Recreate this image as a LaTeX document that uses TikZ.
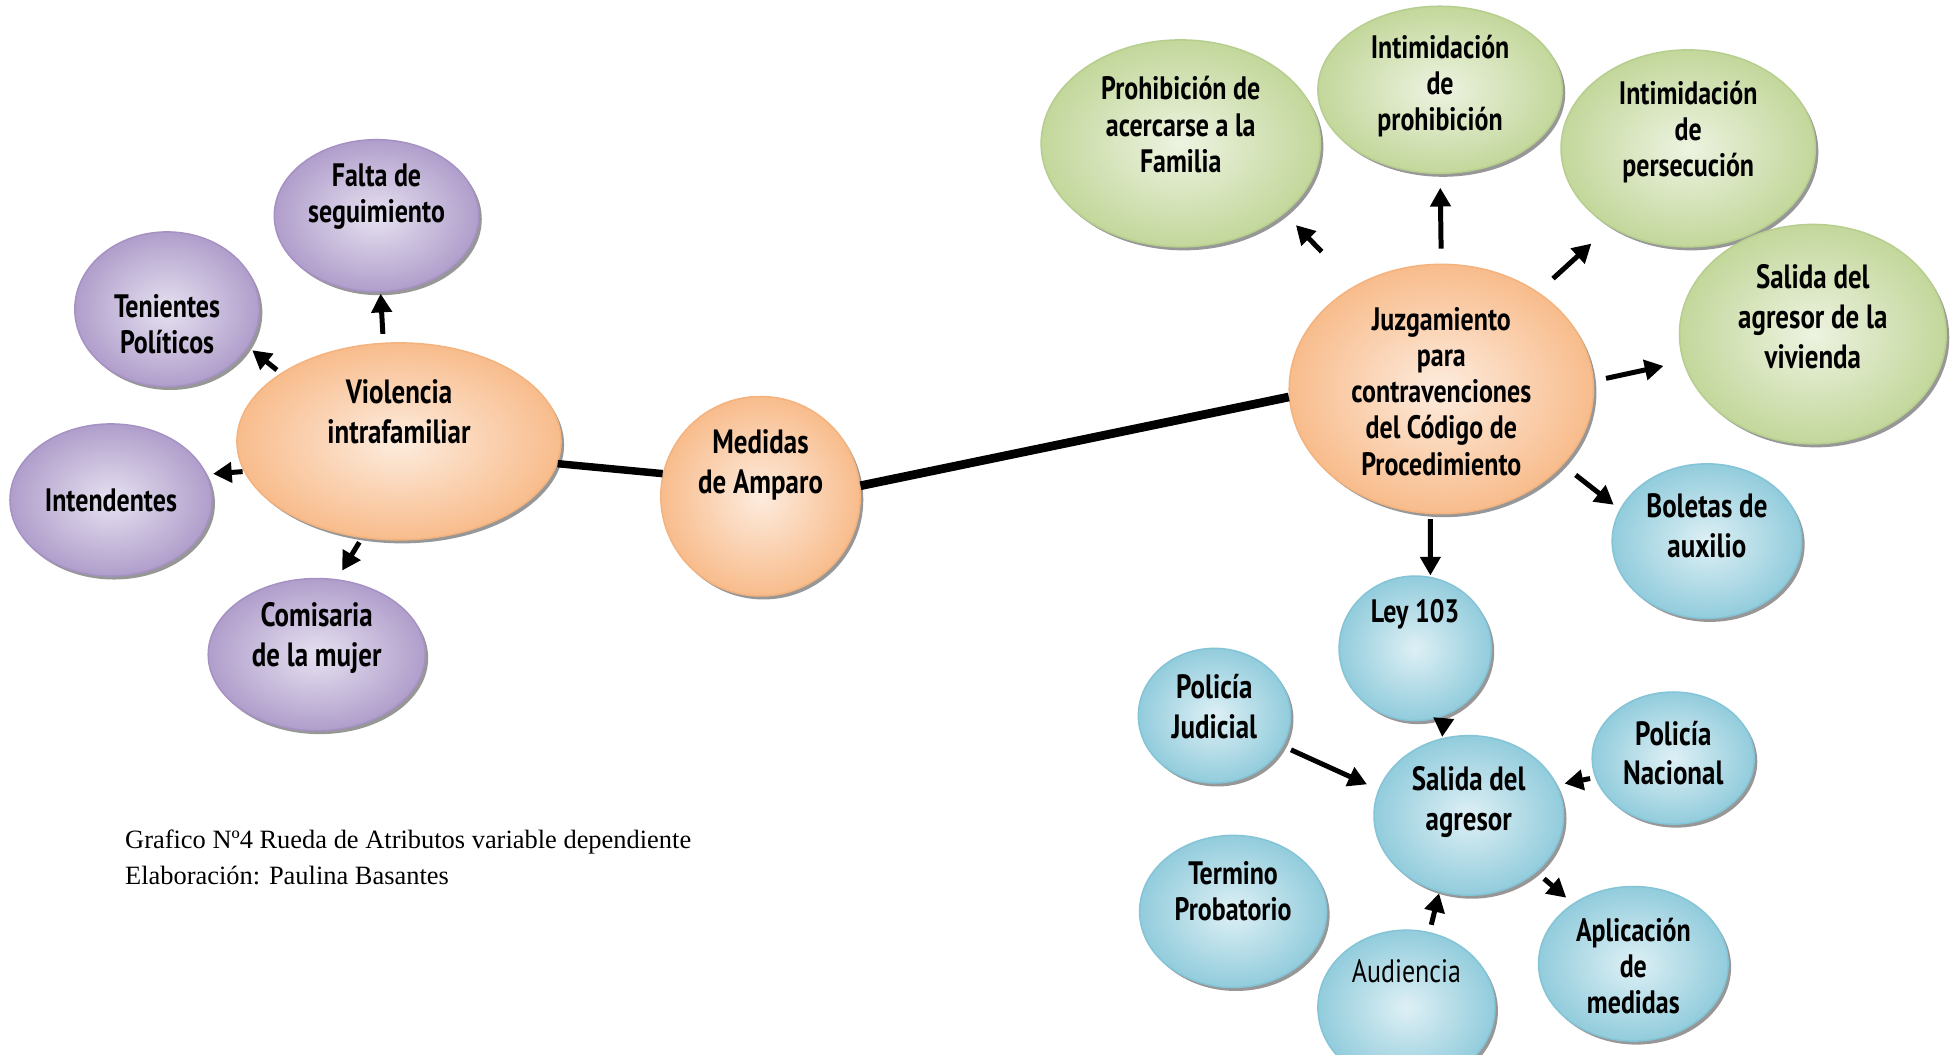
\documentclass[tikz,border=0pt]{standalone}
\usepackage{fontspec}
\setmainfont{Liberation Serif}
\newfontfamily\bubfont[FakeStretch=0.8]{PT Sans}
\usetikzlibrary{shapes.geometric,arrows.meta,shadows}

\tikzset{
  bubble/.style={ellipse,inner sep=0pt,line width=0.6pt,
    drop shadow={shadow xshift=1.2pt,shadow yshift=-1.4pt,fill=black!45,opacity=0.9}},
  purplebub/.style={bubble,draw=purpleEdge,inner color=purpleIn,outer color=purpleOut},
  orangebub/.style={bubble,draw=orangeEdge,inner color=orangeIn,outer color=orangeOut},
  greenbub/.style={bubble,draw=greenEdge,inner color=greenIn,outer color=greenOut},
  bluebub/.style={bubble,draw=blueEdge,inner color=blueIn,outer color=blueOut},
  bubtext/.style={font=\bubfont\bfseries\fontsize{13}{14.5}\selectfont,align=center,inner sep=0pt},
  bigtext/.style={bubtext,font=\bubfont\bfseries\fontsize{13.5}{16}\selectfont},
  arr/.style={line width=2pt,-{Triangle[length=7.5pt,width=8pt]},shorten <=2pt,shorten >=2pt},
  link/.style={line width=3pt}
}

\begin{document}
\begin{tikzpicture}[x=0.5pt,y=-0.5pt]
\definecolor{purpleIn}{RGB}{230,225,240}
\definecolor{purpleOut}{RGB}{176,158,203}
\definecolor{purpleEdge}{RGB}{165,145,195}
\definecolor{orangeIn}{RGB}{253,236,222}
\definecolor{orangeOut}{RGB}{248,188,140}
\definecolor{orangeEdge}{RGB}{244,178,125}
\definecolor{greenIn}{RGB}{237,243,225}
\definecolor{greenOut}{RGB}{195,215,155}
\definecolor{greenEdge}{RGB}{182,206,142}
\definecolor{blueIn}{RGB}{222,240,245}
\definecolor{blueOut}{RGB}{146,204,220}
\definecolor{blueEdge}{RGB}{132,196,215}

\path[use as bounding box,fill=white] (0,0) rectangle (1568,846);

\node[purplebub,minimum width=82pt,minimum height=61pt] (falta) at (302,173) {};
\node[bubtext] (faltaT) at (302,158) {Falta de\\seguimiento};

\node[purplebub,minimum width=74pt,minimum height=62pt] (tenientes) at (134,248) {};
\node[bubtext] (tenientesT) at (134,260) {Tenientes\\Políticos};

\node[purplebub,minimum width=81pt,minimum height=61pt] (intendentes) at (89,401) {};
\node[bubtext] (intendentesT) at (89,401) {Intendentes};

\node[purplebub,minimum width=87pt,minimum height=61pt] (comisaria) at (254,525) {};
\node[bigtext] (comisariaT) at (254,512) {Comisaria\\de la mujer};

\node[orangebub,minimum width=130pt,minimum height=79pt] (violencia) at (320,354) {};
\node[bigtext] (violenciaT) at (320,330) {Violencia\\intrafamiliar};

\node[orangebub,minimum width=80pt,minimum height=80pt] (medidas) at (610,398) {};
\node[bigtext] (medidasT) at (610,373) {Medidas\\de Amparo};

\node[orangebub,minimum width=122pt,minimum height=100pt] (juzgamiento) at (1156,312) {};
\node[bubtext] (juzgamientoT) at (1156,314) {Juzgamiento\\para\\contravenciones\\del Código de\\Procedimiento};

\node[greenbub,minimum width=112pt,minimum height=83pt] (prohibicion) at (947,115) {};
\node[bubtext] (prohibicionT) at (947,100) {Prohibición de\\acercarse a la\\Familia};

\node[greenbub,minimum width=98pt,minimum height=67pt] (intprohib) at (1155,72) {};
\node[bubtext] (intprohibT) at (1155,69) {Intimidación\\de\\prohibición};

\node[greenbub,minimum width=102pt,minimum height=79pt] (intpersec) at (1354,119) {};
\node[bubtext] (intpersecT) at (1354,106) {Intimidación\\de\\persecución};

\node[greenbub,minimum width=107pt,minimum height=88pt] (salidaviv) at (1454,268) {};
\node[bigtext] (salidavivT) at (1454,254) {Salida del\\agresor de la\\vivienda};

\node[bluebub,minimum width=76pt,minimum height=62pt] (boletas) at (1369,434) {};
\node[bigtext] (boletasT) at (1369,422) {Boletas de\\auxilio};

\node[bluebub,minimum width=61pt,minimum height=58pt] (ley) at (1135,520) {};
\node[bubtext] (leyT) at (1135,493) {Ley 103};

\node[bluebub,minimum width=61pt,minimum height=54pt] (policiaj) at (974,574) {};
\node[bigtext] (policiajT) at (974,567) {Policía\\Judicial};

\node[bluebub,minimum width=76pt,minimum height=64pt] (salidaagr) at (1178,654) {};
\node[bigtext] (salidaagrT) at (1178,643) {Salida del\\agresor};

\node[bluebub,minimum width=65pt,minimum height=53pt] (polician) at (1342,608) {};
\node[bigtext] (policianT) at (1342,604) {Policía\\Nacional};

\node[bluebub,minimum width=75pt,minimum height=61pt] (termino) at (989,731) {};
\node[bubtext] (terminoT) at (989,715) {Termino\\Probatorio};

\node[bluebub,minimum width=71pt,minimum height=62pt] (audiencia) at (1128,808) {};
\node[bubtext,font=\bubfont\fontsize{13}{14.5}\selectfont] (audienciaT) at (1128,779) {Audiencia};

\node[bluebub,minimum width=76pt,minimum height=62pt] (aplicacion) at (1310,773) {};
\node[bubtext] (aplicacionT) at (1310,775) {Aplicación\\de\\medidas};

\draw[link] (violencia.-8) -- (medidas.167);

\draw[link,line width=3.5pt] (medidas.6) -- (juzgamiento.183);

\draw[arr,shorten <=3.5pt,shorten >=0.5pt] (violencia.99) -- (falta.-87);

\draw[arr] (violencia.150) -- (tenientes.-25);

\draw[arr,shorten <=0.5pt,shorten >=2.5pt] (violencia.191) -- (intendentes.15);

\draw[arr,shorten >=4pt] (violencia.-111) -- (comisaria.75);

\draw[arr,shorten <=19pt,shorten >=6.5pt] (juzgamiento.130) -- (prohibicion.-34);

\draw[arr,shorten <=6pt,shorten >=5.5pt] (juzgamiento.90) -- (intprohib.-90);

\draw[arr,shorten <=8pt,shorten >=10pt] (juzgamiento.45) -- (intpersec.-135);

\draw[arr,shorten <=5pt,shorten >=8pt] (juzgamiento.3) -- (salidaviv.192);

\draw[arr,shorten <=6.5pt,shorten >=3pt] (juzgamiento.-32) -- (boletas.160);

\draw[arr,shorten >=0.5pt] (juzgamiento.-95) -- (ley.78);

\draw[arr,line width=1.5pt,shorten <=1pt,shorten >=0.5pt] (ley.-67) -- (salidaagr.109);

\draw[arr,shorten <=3.5pt,shorten >=5pt] (policiaj.-24) -- (salidaagr.164);

\draw[arr,shorten >=3pt] (polician.194) -- (salidaagr.19);

\draw[arr,shorten <=3pt,shorten >=0.5pt] (audiencia.73) -- (salidaagr.-111);

\draw[arr,shorten <=4pt,shorten >=3.5pt] (salidaagr.-40) -- (aplicacion.135);

\node[anchor=north west,align=left,inner sep=0pt,font=\fontsize{10.6}{14.5}\selectfont] (caption) at (100,665) {Grafico Nº4 Rueda de Atributos variable dependiente\\Elaboración: Paulina Basantes};
\end{tikzpicture}
\end{document}
